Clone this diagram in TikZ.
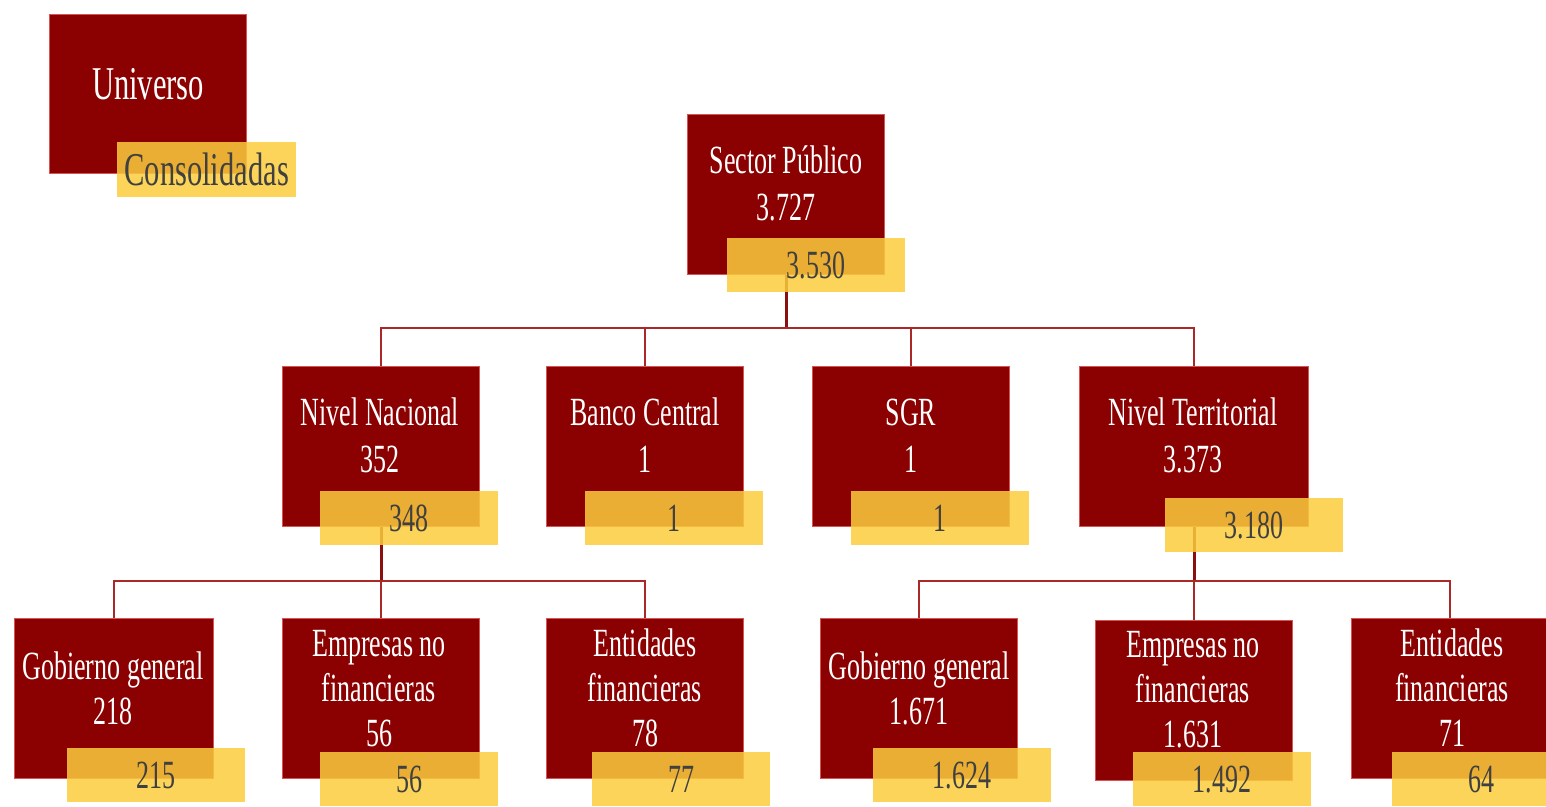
\documentclass[tikz,border=0pt]{standalone}
\usepackage{fontspec}
\newfontfamily\narrowserif[FakeStretch=0.65]{Liberation Serif}
\usetikzlibrary{positioning}
\definecolor{boxred}{RGB}{139,0,0}
\definecolor{edgered}{RGB}{214,84,84}
\definecolor{linkred}{RGB}{170,40,40}
\definecolor{trunkred}{RGB}{140,15,15}
\definecolor{boxyellow}{RGB}{250,205,60}
\definecolor{numgray}{RGB}{64,64,64}
\pgfdeclarelayer{background}
\pgfsetlayers{background,main}

\begin{document}
\begin{tikzpicture}[x=1pt,y=-1pt,
  redbox/.style={fill=boxred,draw=edgered,line width=1.2pt,minimum width=197pt,minimum height=160pt,anchor=north west,inner sep=0pt},
  yellowbox/.style={fill=boxyellow,fill opacity=0.85,text opacity=1,text=numgray,minimum width=178pt,minimum height=54pt,anchor=north west,inner sep=0pt,font=\narrowserif\fontsize{40}{44}\selectfont},
  boxlabel/.style={text=white,align=center,anchor=south,inner sep=0pt,font=\narrowserif\fontsize{40}{47}\selectfont},
  boxlabelsmall/.style={boxlabel,font=\narrowserif\fontsize{40}{45}\selectfont},
  link/.style={draw=linkred,line width=2.5pt},
  trunk/.style={draw=trunkred,line width=3pt}]

  \useasboundingbox (0,0) rectangle (1546,806);

  % legend
  \node[redbox,minimum height=159pt] (univ) at (49,14) {};
  \node[boxlabel,font=\narrowserif\fontsize{47}{52}\selectfont] (univ-l) at (148,100) {Universo};
  \node[yellowbox,minimum width=179pt,minimum height=55pt,font=\narrowserif\fontsize{47}{52}\selectfont] (cons) at (117,142) {Consolidadas};

  % top
  \node[redbox] (sp) at (687,114) {};
  \node[boxlabel] (sp-l) at (786,221) {Sector Público\\3.727};
  \node[yellowbox] (sp-c) at (727,238) {3.530};

  % second level
  \node[redbox] (nn) at (282,366) {};
  \node[boxlabel] (nn-l) at (380,473) {Nivel Nacional\\352};
  \node[yellowbox] (nn-c) at (320,491) {348};

  \node[redbox] (bc) at (546,366) {};
  \node[boxlabel] (bc-l) at (645,473) {Banco Central\\1};
  \node[yellowbox] (bc-c) at (585,491) {1};

  \node[redbox] (sgr) at (812,366) {};
  \node[boxlabel] (sgr-l) at (911,473) {SGR\\1};
  \node[yellowbox] (sgr-c) at (851,491) {1};

  \node[redbox,minimum width=229pt] (nt) at (1079,366) {};
  \node[boxlabel] (nt-l) at (1193,473) {Nivel Territorial\\3.373};
  \node[yellowbox] (nt-c) at (1165,498) {3.180};

  % third level, nacional
  \node[redbox,minimum width=199pt] (gg1) at (14,618) {};
  \node[boxlabelsmall] (gg1-l) at (113,725) {Gobierno general\\218};
  \node[yellowbox] (gg1-c) at (67,748) {215};

  \node[redbox] (enf1) at (282,618) {};
  \node[boxlabelsmall] (enf1-l) at (379,747) {Empresas no\\financieras\\56};
  \node[yellowbox] (enf1-c) at (320,752) {56};

  \node[redbox] (ef1) at (546,618) {};
  \node[boxlabelsmall] (ef1-l) at (645,747) {Entidades\\financieras\\78};
  \node[yellowbox] (ef1-c) at (592,752) {77};

  % third level, territorial
  \node[redbox] (gg2) at (820,618) {};
  \node[boxlabelsmall] (gg2-l) at (919,725) {Gobierno general\\1.671};
  \node[yellowbox] (gg2-c) at (873,748) {1.624};

  \node[redbox] (enf2) at (1095,620) {};
  \node[boxlabelsmall] (enf2-l) at (1193,748) {Empresas no\\financieras\\1.631};
  \node[yellowbox] (enf2-c) at (1133,752) {1.492};

  \node[redbox] (ef2) at (1351,618) {};
  \node[boxlabelsmall] (ef2-l) at (1452,747) {Entidades\\financieras\\71};
  \node[yellowbox] (ef2-c) at (1392,752) {64};

  \coordinate (bus1) at (sp.center |- 0,328);
  \coordinate (bus2) at (nn.center |- 0,581);
  \coordinate (bus3) at (nt.center |- 0,581);

  \begin{pgfonlayer}{background}
    \draw[trunk] (sp.center) -- (bus1);
    \draw[link] (nn.north) |- (bus1) -| (nt.north);
    \draw[link] (bus1) -| (bc.north);
    \draw[link] (bus1) -| (sgr.north);

    \draw[trunk] (nn.center) -- (bus2);
    \draw[link] (gg1.north) |- (bus2) -| (ef1.north);
    \draw[link] (enf1.north) |- (bus2);

    \draw[trunk] (nt.center) -- (bus3);
    \draw[link] (gg2.north) |- (bus3) -| (ef2.north);
    \draw[link] (enf2.north) |- (bus3);
  \end{pgfonlayer}
\end{tikzpicture}
\end{document}
